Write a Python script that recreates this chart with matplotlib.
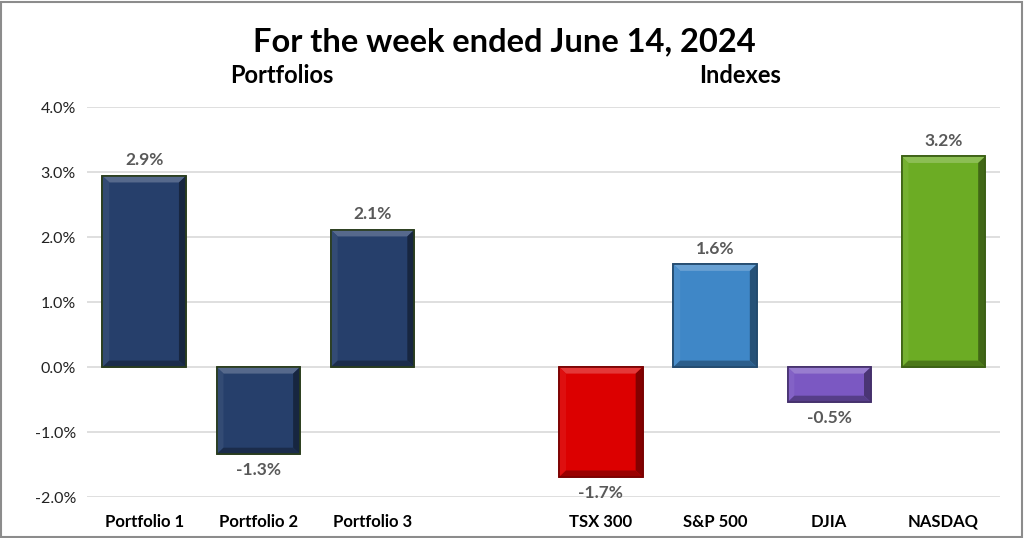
import matplotlib.pyplot as plt
from matplotlib.patches import Polygon, Rectangle
import numpy as np

# data
categories = ['Portfolio 1', 'Portfolio 2', 'Portfolio 3', '', 'TSX 300', 'S&P 500', 'DJIA', 'NASDAQ']
values = [2.94, -1.34, 2.11, np.nan, -1.69, 1.58, -0.54, 3.24]
colors = ['#263f6b', '#263f6b', '#263f6b', 'none', '#dc0000', '#3f87c7', '#7b58c2', '#6cac24']
y_ticks = [-2, -1, 0, 1, 2, 3, 4]

plt.rcParams['font.family'] = ['Lato', 'DejaVu Sans']

fig = plt.figure(figsize=(10.24, 5.38), dpi=100)
ax = fig.add_axes([0.085, 0.076, 0.892, 0.725])

x = np.arange(len(categories))
width = 0.73


def shade(c, f):
    import matplotlib.colors as mc
    r, g, b = mc.to_rgb(c)
    if f > 0:
        return (r + (1 - r) * f, g + (1 - g) * f, b + (1 - b) * f)
    return (r * (1 + f), g * (1 + f), b * (1 + f))


bw = 0.06   # bevel width in x units
bh = 0.10   # bevel height in y units
for xi, v, c in zip(x, values, colors):
    if np.isnan(v):
        continue
    x0, x1 = xi - width / 2, xi + width / 2
    lo, hi = min(0, v), max(0, v)
    edge = '#2a3d1c' if c == '#263f6b' else shade(c, -0.45)
    ax.add_patch(Rectangle((x0, lo), width, hi - lo, facecolor=c, edgecolor=edge, lw=1.2, zorder=3))
    # bevel faces
    top = [(x0, hi), (x1, hi), (x1 - bw, hi - bh), (x0 + bw, hi - bh)]
    bot = [(x0, lo), (x1, lo), (x1 - bw, lo + bh), (x0 + bw, lo + bh)]
    left = [(x0, lo), (x0, hi), (x0 + bw, hi - bh), (x0 + bw, lo + bh)]
    right = [(x1, lo), (x1, hi), (x1 - bw, hi - bh), (x1 - bw, lo + bh)]
    ax.add_patch(Polygon(top, closed=True, facecolor=shade(c, 0.22), lw=0, zorder=4))
    ax.add_patch(Polygon(left, closed=True, facecolor=shade(c, 0.06), lw=0, zorder=4))
    ax.add_patch(Polygon(right, closed=True, facecolor=shade(c, -0.4), lw=0, zorder=4))
    ax.add_patch(Polygon(bot, closed=True, facecolor=shade(c, -0.3), lw=0, zorder=4))
    ax.add_patch(Rectangle((x0, lo), width, hi - lo, facecolor='none', edgecolor=edge, lw=1.2, zorder=5))
    if v >= 0:
        ax.text(xi, v + 0.12, f'{v:.1f}%', ha='center', va='bottom', fontsize=12.5,
                fontweight='bold', color='#595959')
    else:
        ax.text(xi, v - 0.12, f'{v:.1f}%', ha='center', va='top', fontsize=12.5,
                fontweight='bold', color='#595959')

ax.set_xlim(-0.5, len(categories) - 0.5)
ax.set_ylim(-2, 4)
ax.set_yticks(y_ticks)
ax.set_yticklabels([f'{t:.1f}%' for t in y_ticks], fontsize=11.5, color='#222222')
ax.set_xticks(x)
ax.set_xticklabels(categories, fontsize=12, fontweight='bold', color='black')
ax.tick_params(axis='x', length=0, pad=12)
ax.tick_params(axis='y', length=0, pad=8)
ax.grid(axis='y', color='#d9d9d9', lw=1.2, zorder=0)
ax.set_axisbelow(True)
for s in ax.spines.values():
    s.set_visible(False)

fig.text(0.493, 0.922, 'For the week ended June 14, 2024', ha='center', va='center',
         fontsize=23.5, fontweight='bold')
fig.text(0.275, 0.859, 'Portfolios', ha='center', va='center', fontsize=17, fontweight='bold')
fig.text(0.723, 0.859, 'Indexes', ha='center', va='center', fontsize=17, fontweight='bold')

fig.patches.append(Rectangle((0.001, 0.002), 0.997, 0.995, transform=fig.transFigure,
                             fill=False, edgecolor='#8c8c8c', lw=1.5))

fig.savefig('out.png', dpi=100)
